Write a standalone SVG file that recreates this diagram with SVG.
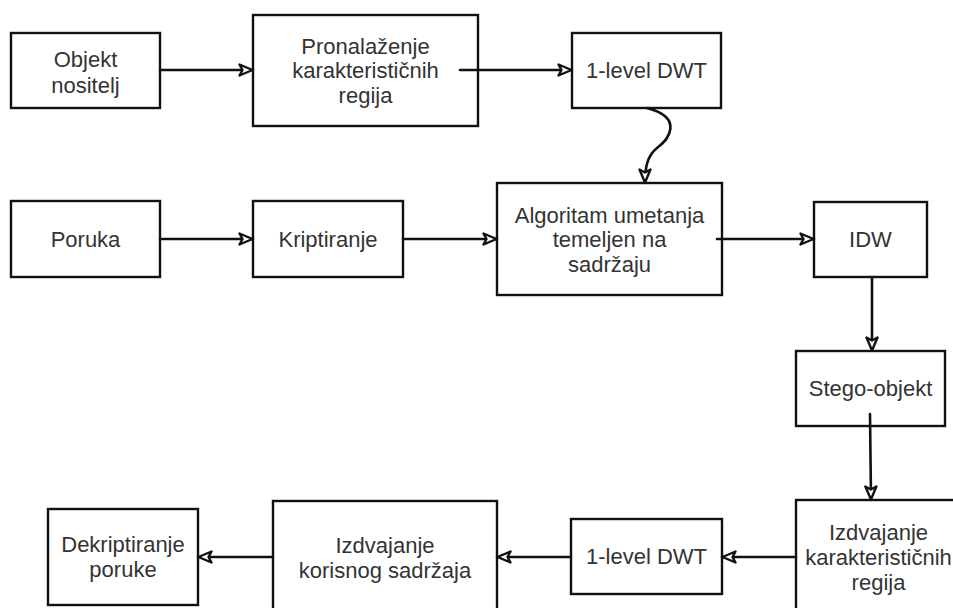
<svg xmlns="http://www.w3.org/2000/svg" width="953" height="608" viewBox="0 0 953 608">
<style>
  .box { fill: #ffffff; stroke: #111111; stroke-width: 2.4; }
  .lbl { font-family: "Liberation Sans", Arial, sans-serif; font-size: 22px; fill: #333333; text-anchor: middle; }
  .edge { fill: none; stroke: #111111; stroke-width: 2.6; stroke-linecap: round; marker-end: url(#ah); }
</style>
<defs>
  <marker id="ah" viewBox="0 0 16 14" refX="15" refY="7" markerWidth="16" markerHeight="14" orient="auto" markerUnits="userSpaceOnUse">
    <path d="M1.5,1.5 L14.5,7 L1.5,12.5 L4.5,7 Z" fill="#ffffff" stroke="#111111" stroke-width="2.4" stroke-linejoin="round"/>
  </marker>
</defs>
<rect x="0" y="0" width="953" height="608" fill="#ffffff"/>

<g id="objekt">
  <rect class="box" x="11" y="33" width="149" height="75"/>
  <text class="lbl" x="85.5" y="67">Objekt</text>
  <text class="lbl" x="85.5" y="93">nositelj</text>
</g>
<g id="pronalazenje">
  <rect class="box" x="253" y="15" width="225" height="111"/>
  <text class="lbl" x="365.5" y="53.5">Pronalaženje</text>
  <text class="lbl" x="365.5" y="78">karakterističnih</text>
  <text class="lbl" x="365.5" y="102.5">regija</text>
</g>
<g id="dwt1">
  <rect class="box" x="572" y="33" width="149" height="75"/>
  <text class="lbl" x="646.5" y="78">1-level DWT</text>
</g>
<g id="poruka">
  <rect class="box" x="11" y="201" width="149" height="76"/>
  <text class="lbl" x="85.5" y="246.5">Poruka</text>
</g>
<g id="kriptiranje">
  <rect class="box" x="253" y="201" width="150" height="76"/>
  <text class="lbl" x="328" y="246.5">Kriptiranje</text>
</g>
<g id="algoritam">
  <rect class="box" x="497" y="183" width="225" height="112"/>
  <text class="lbl" x="609.5" y="222.5">Algoritam umetanja</text>
  <text class="lbl" x="609.5" y="247">temeljen na</text>
  <text class="lbl" x="609.5" y="271.5">sadržaju</text>
</g>
<g id="idw">
  <rect class="box" x="814" y="202" width="113" height="75"/>
  <text class="lbl" x="870.5" y="247">IDW</text>
</g>
<g id="stego">
  <rect class="box" x="796" y="351" width="149" height="75"/>
  <text class="lbl" x="870.5" y="396">Stego-objekt</text>
</g>
<g id="izdvajanje-regija">
  <rect class="box" x="796" y="500" width="165" height="113"/>
  <text class="lbl" x="878.5" y="540">Izdvajanje</text>
  <text class="lbl" x="878.5" y="565">karakterističnih</text>
  <text class="lbl" x="878.5" y="590">regija</text>
</g>
<g id="dwt2">
  <rect class="box" x="571" y="519" width="151" height="75"/>
  <text class="lbl" x="646.5" y="564">1-level DWT</text>
</g>
<g id="izdvajanje-sadrzaja">
  <rect class="box" x="273" y="501" width="224" height="112"/>
  <text class="lbl" x="385" y="553">Izdvajanje</text>
  <text class="lbl" x="385" y="578">korisnog sadržaja</text>
</g>
<g id="dekriptiranje">
  <rect class="box" x="48" y="509" width="150" height="96"/>
  <text class="lbl" x="123" y="552">Dekriptiranje</text>
  <text class="lbl" x="123" y="577">poruke</text>
</g>

<g id="connectors">
  <path class="edge" d="M160 70 L253 70"/>
  <path class="edge" d="M460 70 L572 70"/>
  <path class="edge" d="M647 108 C 685 118, 668 140, 657 148 C 647 156, 645 168, 645 183"/>
  <path class="edge" d="M160 239 L253 239"/>
  <path class="edge" d="M403 239 L497 239"/>
  <path class="edge" d="M717 239 L814 239"/>
  <path class="edge" d="M872 277 L872 351"/>
  <path class="edge" d="M870 414 L871 500"/>
  <path class="edge" d="M796 557 L722 557"/>
  <path class="edge" d="M571 557 L497 557"/>
  <path class="edge" d="M273 557 L198 557"/>
</g>
</svg>
